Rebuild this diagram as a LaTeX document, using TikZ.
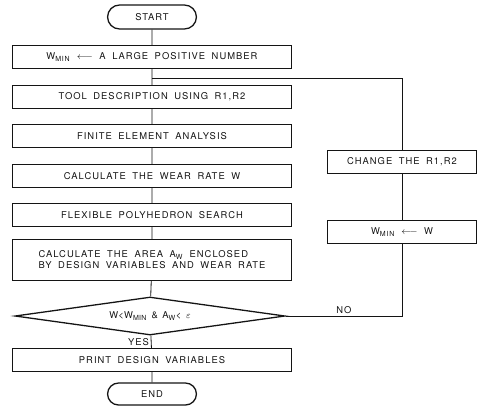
\documentclass[tikz,border=0pt]{standalone}
\usepackage{fontspec}
\usepackage{xcolor}
\usepackage{tikz}
\usetikzlibrary{shapes.geometric,shapes.misc}
\newfontfamily\chartfont{TeX Gyre Heros}[LetterSpace=11, WordSpace=1.8]
\newfontfamily\testfont{TeX Gyre Heros}[LetterSpace=3, WordSpace=1.6]
\definecolor{ink}{HTML}{141414}
\definecolor{paper}{HTML}{FFFFFF}
\newcommand{\wmin}{W\textsubscript{MIN}}
\tikzset{
  proc/.style={draw=ink, line width=1.1pt, minimum width=8.37cm, minimum height=0.68cm, inner sep=2pt, text=ink, font=\chartfont\footnotesize},
  side/.style={proc, minimum width=4.47cm},
  term/.style={draw=ink, line width=1.1pt, rounded rectangle, minimum width=2.9cm, minimum height=0.72cm, text=ink, font=\chartfont\footnotesize},
  test/.style={draw=ink, line width=1.1pt, diamond, aspect=7.2, minimum width=8.1cm, minimum height=1.14cm, inner sep=0pt, text=ink, font=\testfont\footnotesize},
  flow/.style={draw=ink, line width=0.7pt},
  lab/.style={text=ink, font=\chartfont\footnotesize, inner sep=1.5pt},
}

\begin{document}
\begin{tikzpicture}[x=0.03cm, y=-0.03cm]
  \fill[paper] (0,0) rectangle (481,408);
  \useasboundingbox (0,0) rectangle (481,408);
  % main column
  \node[term] (start) at (152,17) {START};
  \node[proc] (init) at (152,57) {\wmin\ $\longleftarrow$ A LARGE POSITIVE NUMBER};
  \node[proc] (tool) at (152,97) {TOOL DESCRIPTION USING R1,R2};
  \node[proc] (fem) at (152,136) {FINITE ELEMENT ANALYSIS};
  \node[proc] (wear) at (152,176) {CALCULATE THE WEAR RATE W};
  \node[proc] (search) at (152,215) {FLEXIBLE POLYHEDRON SEARCH};
  \node[proc, minimum height=1.23cm, align=left] (area) at (152,260)
    {CALCULATE THE AREA A\textsubscript{W} ENCLOSED\\BY DESIGN VARIABLES AND WEAR RATE};
  \node[test] (check) at (150,316) {W<\wmin\ \& A\textsubscript{W}< $\varepsilon$};
  \node[proc] (print) at (152,360) {PRINT DESIGN VARIABLES};
  \node[term, minimum height=0.66cm] (end) at (152,394) {END};
  % right column
  \node[side] (change) at (402,162) {CHANGE THE R1,R2};
  \node[side] (update) at (402,232) {\wmin\ $\longleftarrow$ W};
  \coordinate (back) at (152,78);
  \draw[flow] (start) -- (init) -- (tool) -- (fem) -- (wear) -- (search) -- (area) -- (check);
  \draw[flow] (check) -- node[lab, left] {YES} (print);
  \draw[flow] (print) -- (end);
  \draw[flow] (back) -| (change.north);
  \draw[flow] (change) -- (update);
  \draw[flow] (check.east) -- node[lab, above] {NO} (check.east -| update.south) -- (update.south);
\end{tikzpicture}
\end{document}
